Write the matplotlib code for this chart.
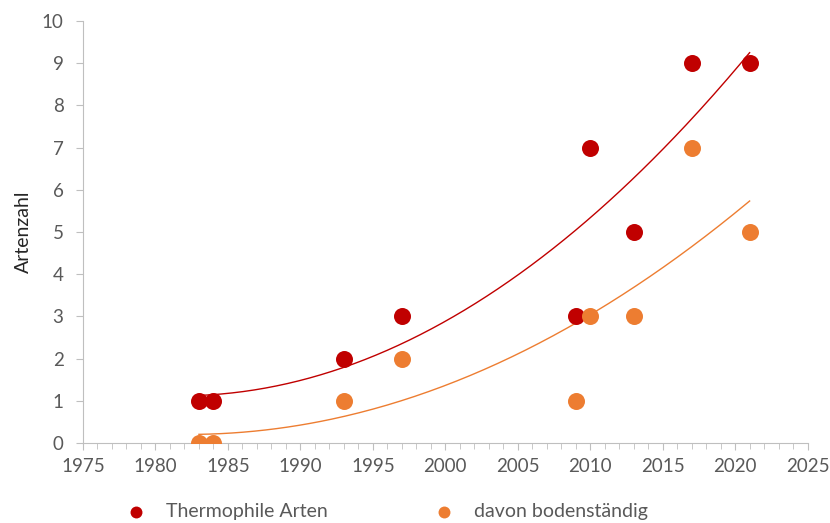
import numpy as np
import matplotlib
matplotlib.use("Agg")
import matplotlib.pyplot as plt
from matplotlib.ticker import MultipleLocator

years_thermo = [1983, 1984, 1993, 1997, 2009, 2010, 2013, 2017, 2021]
thermo = [1, 1, 2, 3, 3, 7, 5, 9, 9]
years_boden = [1983, 1984, 1993, 1997, 2009, 2010, 2013, 2017, 2021]
boden = [0, 0, 1, 2, 1, 3, 3, 7, 5]
labels = ["Thermophile Arten", "davon bodenständig"]

plt.rcParams['font.family'] = ['Lato', 'DejaVu Sans']
red = "#C00000"
orange = "#ED7D31"
grey = "#595959"

fig = plt.figure(figsize=(8.3, 5.23), dpi=100)
ax = fig.add_axes([0.1, 0.153, 0.873, 0.807])

xs = np.linspace(1983, 2021, 200)
for yrs, vals, c in [(years_thermo, thermo, red), (years_boden, boden, orange)]:
    p = np.polyfit(yrs, vals, 2)
    ax.plot(xs, np.polyval(p, xs), color=c, lw=1.0, zorder=2)

ax.scatter(years_thermo, thermo, s=150, color=red, zorder=3, label=labels[0], linewidths=0)
ax.scatter(years_boden, boden, s=150, color=orange, zorder=3, label=labels[1], linewidths=0)

ax.set_xlim(1975, 2025)
ax.set_ylim(0, 10)
ax.xaxis.set_major_locator(MultipleLocator(5))
ax.xaxis.set_minor_locator(MultipleLocator(1))
ax.yaxis.set_major_locator(MultipleLocator(1))
for s in ["top", "right"]:
    ax.spines[s].set_visible(False)
for s in ["left", "bottom"]:
    ax.spines[s].set_color("#BFBFBF")
ax.tick_params(axis="both", which="both", color="#BFBFBF", labelcolor=grey, labelsize=13.5)
ax.tick_params(axis="x", which="major", length=5, pad=6)
ax.tick_params(axis="x", which="minor", length=4)
ax.tick_params(axis="y", length=5, pad=9)
ax.set_ylabel("Artenzahl", fontsize=14, color="#262626", labelpad=7)

fig.legend(loc="center left", bbox_to_anchor=(0.14, 0.022), ncol=2, frameon=False,
           fontsize=14, handletextpad=0.55, columnspacing=5.0, markerscale=0.7,
           labelcolor=grey, borderpad=0, borderaxespad=0)

fig.savefig("out.png", dpi=100)
